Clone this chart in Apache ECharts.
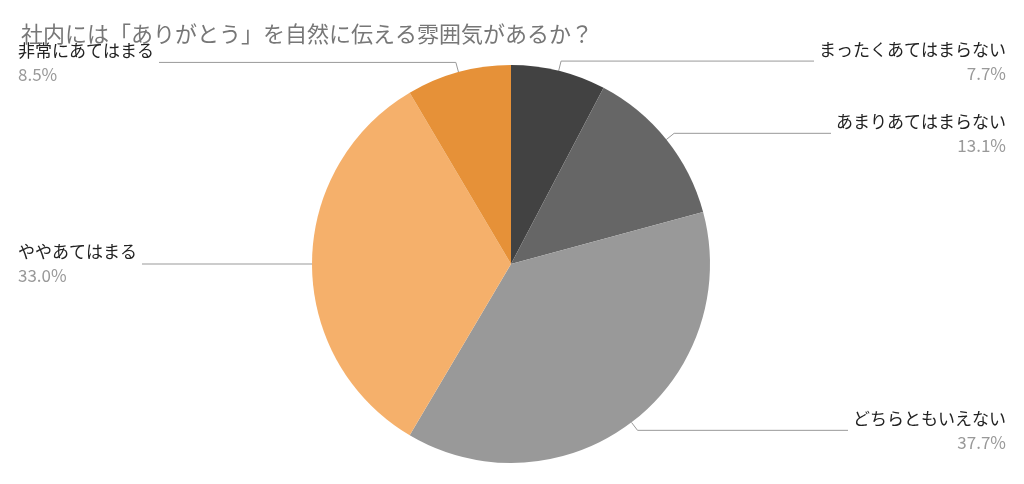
<!DOCTYPE html>
<html>
<head>
<meta charset="utf-8">
<script src="https://cdn.jsdelivr.net/npm/echarts@6/dist/echarts.min.js"></script>
<style>html,body{margin:0;background:#fff}#main{width:1024px;height:484px}</style>
</head>
<body>
<div id="main"></div>
<script>
var categories = ['まったくあてはまらない', 'あまりあてはまらない', 'どちらともいえない', 'ややあてはまる', '非常にあてはまる'];
var values = [7.7, 13.1, 37.7, 33.0, 8.5];
var colors = ['#424242', '#666666', '#999999', '#f5b06b', '#e69138'];

var dom = document.getElementById('main');
var myChart = echarts.init(dom, null, { renderer: 'canvas' });

var option = {
    textStyle: { fontFamily: 'Noto Sans CJK JP' },
    title: {
        text: '社内には「ありがとう」を自然に伝える雰囲気があるか？',
        left: 16,
        top: 18,
        textStyle: { color: '#777', fontSize: 22, fontWeight: 'normal', fontFamily: 'Noto Sans CJK JP' }
    },
    series: [{
        type: 'pie',
        center: [511, 264],
        radius: 199,
        startAngle: 90,
        clockwise: true,
        data: categories.map(function (c, i) {
            return { name: c, value: values[i], itemStyle: { color: colors[i] } };
        }),
        label: {
            alignTo: 'edge',
            edgeDistance: 18,
            formatter: function (p) { return '{n|' + p.name + '}\n{p|' + p.value.toFixed(1) + '%}'; },
            rich: {
                n: { fontSize: 17, color: '#222', lineHeight: 24, fontFamily: 'Noto Sans CJK JP' },
                p: { fontSize: 17, color: '#999', lineHeight: 24, fontFamily: 'Noto Sans CJK JP' }
            }
        },
        labelLine: { length: 10, length2: 0, lineStyle: { color: '#999', width: 1 } }
    }]
};
myChart.setOption(option);
window.addEventListener('resize', myChart.resize);
</script>
</body>
</html>
